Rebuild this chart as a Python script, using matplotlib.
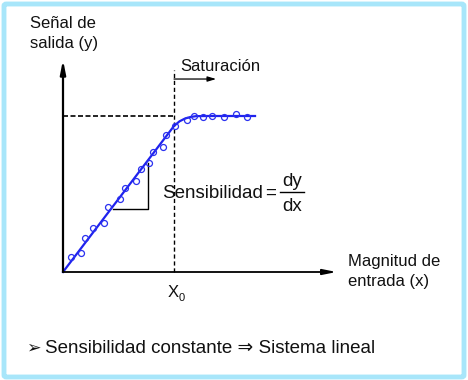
import matplotlib
matplotlib.use("Agg")
import matplotlib.pyplot as plt
from matplotlib.patches import FancyBboxPatch

plt.rcParams['font.family'] = ['Liberation Sans', 'DejaVu Sans']

# ---- data (x in units of X0, y in units of saturation level) ----
meas_x = [0.068, 0.159, 0.195, 0.273, 0.367, 0.408, 0.516, 0.559, 0.656, 0.700,
          0.777, 0.811, 0.904, 0.928, 1.005, 1.114, 1.183, 1.257, 1.342, 1.453,
          1.559, 1.659]
meas_y = [0.096, 0.125, 0.216, 0.285, 0.316, 0.415, 0.468, 0.537, 0.583, 0.660,
          0.699, 0.771, 0.804, 0.880, 0.936, 0.974, 1.000, 0.992, 1.003, 0.992,
          1.012, 0.992]
fit_x = [0.0, 1.0, 1.05, 1.1, 1.15, 1.2, 1.3, 1.73]
fit_y = [0.0, 0.936, 0.966, 0.984, 0.994, 0.999, 1.0, 1.0]
x0 = 1.0
y_sat = 1.0
tri_x = [0.45, 0.766, 0.766]
tri_y = [0.404, 0.404, 0.70]

W, H = 468, 380
fig = plt.figure(figsize=(W / 100, H / 100), dpi=100)
ax = fig.add_axes([0, 0, 1, 1])
ox, oy, sx, sy = 63, 272, 111, 156
ax.set_xlim(-ox / sx, (W - ox) / sx)
ax.set_ylim(-(H - oy) / sy, oy / sy)
ax.axis('off')


def F(px, py):
    return px / W, 1 - py / H


# border
fig.patches.append(FancyBboxPatch(F(4, 377), (464 - 4) / W, (377 - 4) / H,
                                  boxstyle="round,pad=0,rounding_size=0.005",
                                  transform=fig.transFigure, fill=False,
                                  edgecolor='#a8e6fa', lw=3.5))

# axes arrows
ax.annotate('', xy=(0, 1.36), xytext=(0, 0),
            arrowprops=dict(arrowstyle='-|>,head_length=0.8,head_width=0.16',
                            lw=1.6, color='black', shrinkA=0, shrinkB=0))
ax.annotate('', xy=(2.465, 0), xytext=(0, 0),
            arrowprops=dict(arrowstyle='-|>,head_length=0.8,head_width=0.16',
                            lw=1.3, color='black', shrinkA=0, shrinkB=0))

# dashed guides
ax.plot([x0, x0], [0, 1.295], color='black', lw=1.0, ls=(0, (3, 2)))
ax.plot([0, x0], [y_sat, y_sat], color='black', lw=1.2, ls=(0, (3, 1.5)))

# saturation arrow
ax.annotate('', xy=(1.38, 1.237), xytext=(x0, 1.237),
            arrowprops=dict(arrowstyle='-|>,head_length=0.5,head_width=0.15',
                            lw=0.9, color='black', shrinkA=0, shrinkB=0))

# triangle
ax.plot(tri_x, tri_y, color='black', lw=1.0)

# fit line and measurements
ax.plot(fit_x, fit_y, color='#1f22ee', lw=1.6)
ax.plot(meas_x, meas_y, ls='none', marker='o', ms=4.3, mfc='none',
        mec='#2a30f0', mew=0.9)

# texts
fs = 12
tc = '#111111'
fig.text(*F(30, 28), 'Señal de', fontsize=fs, va='baseline', ha='left', color=tc)
fig.text(*F(30, 48), 'salida (y)', fontsize=fs, va='baseline', ha='left', color=tc)
fig.text(*F(180, 71), 'Saturación', fontsize=fs, va='baseline', ha='left', color=tc)
fig.text(*F(348, 266), 'Magnitud de', fontsize=fs, va='baseline', ha='left', color=tc)
fig.text(*F(348, 286), 'entrada (x)', fontsize=fs, va='baseline', ha='left', color=tc)
fig.text(*F(168, 297), 'X', fontsize=fs, va='baseline', ha='left', color=tc)
fig.text(*F(179, 301), '0', fontsize=8, va='baseline', ha='left', color=tc)
fig.text(*F(162, 198), 'Sensibilidad', fontsize=13.5, va='baseline', ha='left', color=tc)
fig.text(*F(271, 198), '=', fontsize=13.5, va='baseline', ha='center', color=tc)
fig.text(*F(292, 186), 'dy', fontsize=13.5, va='baseline', ha='center', color=tc)
fig.text(*F(292, 211), 'dx', fontsize=13.5, va='baseline', ha='center', color=tc)
fig.lines.append(plt.Line2D([280 / W, 304 / W], [1 - 192 / H, 1 - 192 / H],
                            transform=fig.transFigure, color='black', lw=1.0))
fig.text(*F(26, 353), '➢', fontsize=12.5, va='baseline', ha='left',
         family=['DejaVu Sans'], color=tc)
fig.text(*F(45, 353), 'Sensibilidad constante ⇒ Sistema lineal', fontsize=13.5,
         va='baseline', ha='left', color=tc)

fig.savefig('out.png', dpi=100)
